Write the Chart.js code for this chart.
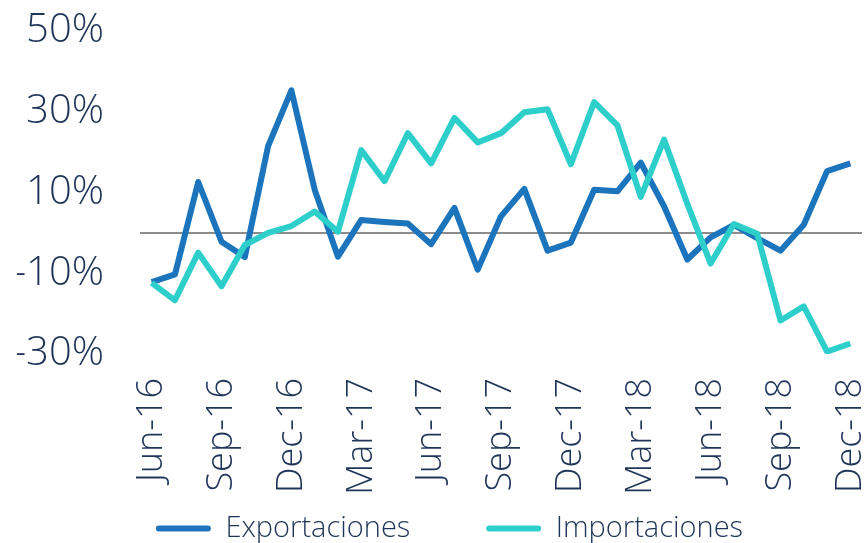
<!DOCTYPE html>
<html>
<head>
<meta charset="utf-8">
<script src="https://cdn.jsdelivr.net/npm/chart.js@4.4.1/dist/chart.umd.min.js"></script>
<style>
  html, body { margin: 0; padding: 0; background: #fff; }
  #wrap { width: 867px; height: 543px; }
</style>
</head>
<body>
<div id="wrap"><canvas id="grafico" width="867" height="543"></canvas></div>
<script>
// Meses (jun-16 a dic-18)
const meses = ['Jun-16','Jul-16','Aug-16','Sep-16','Oct-16','Nov-16','Dec-16','Jan-17','Feb-17','Mar-17',
  'Apr-17','May-17','Jun-17','Jul-17','Aug-17','Sep-17','Oct-17','Nov-17','Dec-17','Jan-18',
  'Feb-18','Mar-18','Apr-18','May-18','Jun-18','Jul-18','Aug-18','Sep-18','Oct-18','Nov-18','Dec-18'];

// Variación anual (%)
const exportaciones = [-12.2, -10.3, 12.6, -2.2, -6.0, 21.5, 35.3, 10.7, -5.9, 3.2,
  2.7, 2.3, -2.8, 6.2, -9.1, 4.1, 10.9, -4.4, -2.4, 10.7,
  10.3, 17.4, 6.6, -6.6, -1.1, 2.0, -1.3, -4.4, 2.0, 15.3, 17.2];

const importaciones = [-12.4, -16.7, -4.9, -13.2, -3.0, 0.0, 1.7, 5.3, 0.3, 20.5,
  12.8, 24.7, 17.2, 28.5, 22.4, 24.7, 29.9, 30.6, 17.0, 32.4,
  26.6, 8.9, 23.1, 7.2, -7.6, 2.2, -0.2, -21.7, -18.2, -29.4, -27.4];

// el 0 solo lleva la línea gris, sin etiqueta
const ticksY = [-30, -10, 0, 10, 30, 50];

const colorExp = '#1c75bc';
const colorImp = '#2ecfcb';
const colorTexto = '#1f3558';
const fuente = "'Open Sans', 'Lato', sans-serif";
const BAJO_GRAFICO = 354; // borde inferior del área de trazado

// desplaza la leyenda a la derecha y hacia abajo
const moverLeyenda = {
  id: 'moverLeyenda',
  afterLayout(chart) {
    chart.legend.left += 10;
    chart.legend.right += 10;
    chart.legend.top += 10;
    chart.legend.bottom += 10;
  }
};

new Chart(document.getElementById('grafico'), {
  type: 'line',
  data: {
    labels: meses,
    datasets: [
      { label: 'Exportaciones', data: exportaciones, borderColor: colorExp, backgroundColor: colorExp,
        borderWidth: 6, pointRadius: 0, tension: 0, borderJoinStyle: 'round', order: 1 },
      { label: 'Importaciones', data: importaciones, borderColor: colorImp, backgroundColor: colorImp,
        borderWidth: 6, pointRadius: 0, tension: 0, borderJoinStyle: 'round', order: 0 }
    ]
  },
  plugins: [moverLeyenda],
  options: {
    responsive: false,
    animation: false,
    layout: { padding: { left: 17, right: 5, top: 31, bottom: 0 } },
    plugins: {
      tooltip: { enabled: false },
      legend: {
        position: 'bottom',
        labels: {
          color: colorTexto,
          font: { family: fuente, size: 29, weight: '300' },
          boxWidth: 55,
          boxHeight: 6,
          useBorderRadius: true,
          borderRadius: 3,
          padding: 8,
          sort: (a, b) => a.datasetIndex - b.datasetIndex,
          generateLabels: (chart) => {
            const items = Chart.defaults.plugins.legend.labels.generateLabels(chart);
            items.forEach(it => {
              it.lineWidth = 0;
              if (it.datasetIndex === 0) it.text += '\u00a0'.repeat(9);
            });
            return items;
          }
        }
      }
    },
    scales: {
      x: {
        offset: true,
        grid: { display: false, drawTicks: false },
        border: { display: false },
        afterFit: (scale) => {
          scale.paddingLeft = 0;
          scale.paddingRight = 0;
          scale.height = scale.chart.height - BAJO_GRAFICO - scale.chart.legend.height;
        },
        ticks: {
          autoSkip: false,
          minRotation: 90,
          maxRotation: 90,
          padding: 24,
          color: colorTexto,
          font: { family: fuente, size: 36, weight: '300' },
          callback: (v, i) => (i % 3 === 0 ? meses[i] : '')
        }
      },
      y: {
        min: -30,
        max: 50,
        afterBuildTicks: (axis) => { axis.ticks = ticksY.map(v => ({ value: v })); },
        afterFit: (scale) => {
          scale.width = 123;
          scale.paddingTop = 0;
          scale.paddingBottom = 0;
        },
        border: { display: false },
        grid: {
          drawTicks: false,
          lineWidth: 2,
          color: (ctx) => (ctx.tick && ctx.tick.value === 0 ? '#8c8c8c' : 'rgba(0,0,0,0)')
        },
        ticks: {
          padding: 36,
          color: colorTexto,
          font: { family: fuente, size: 40, weight: '300' },
          callback: (v) => (v === 0 ? '' : v + '%')
        }
      }
    }
  }
});
</script>
</body>
</html>
